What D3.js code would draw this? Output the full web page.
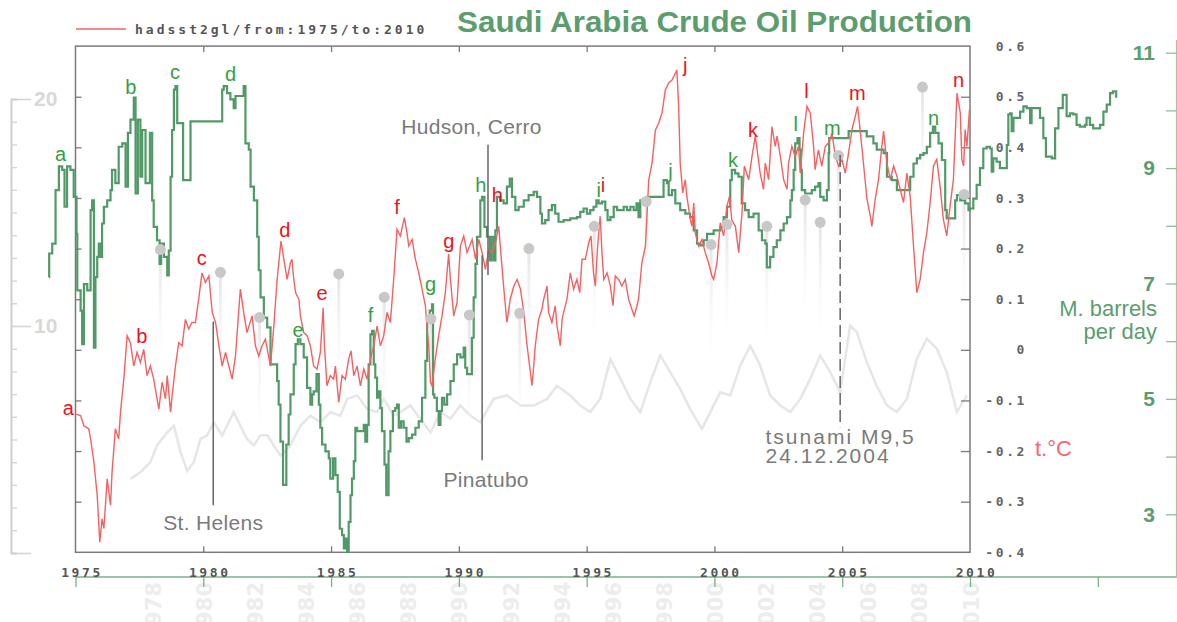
<!DOCTYPE html>
<html><head><meta charset="utf-8">
<script src="https://cdn.jsdelivr.net/npm/d3@7"></script>
<style>body{margin:0;background:#fff}svg{display:block}</style>
</head><body>
<svg id="c" width="1177" height="622"></svg>
<script>
// ---------------- DATA ----------------
const tempTicks = [-0.4,-0.3,-0.2,-0.1,0,0.1,0.2,0.3,0.4,0.5,0.6];
const yearLabels = [1975,1980,1985,1990,1995,2000,2005,2010];
const oilTicks = [3,4,5,6,7,8,9,10,11];
const oilLabels = [3,5,7,9,11];
const bgYearLabels = [1978,1980,1982,1984,1986,1988,1990,1992,1994,1996,1998,2000,2002,2004,2006,2008,2010];
const leftFaintTicks = d3.range(0,21);
const leftFaintLabels = [10,20];

// HadSST2 global anomaly (°C), 1975-2010
const tempSeries = [
[1975.03,-0.127],[1975.20,-0.130],[1975.33,-0.150],[1975.52,-0.156],[1975.59,-0.176],[1975.72,-0.222],[1975.85,-0.288],[1975.95,-0.380],[1976.04,-0.334],[1976.11,-0.353],[1976.24,-0.255],[1976.37,-0.307],[1976.43,-0.242],[1976.56,-0.156],[1976.69,-0.176],[1976.76,-0.123],[1976.89,-0.058],[1977.02,0.028],[1977.15,0.014],[1977.28,-0.032],[1977.41,-0.005],[1977.54,-0.025],[1977.67,0.001],[1977.80,-0.051],[1977.93,-0.032],[1978.06,-0.058],[1978.26,-0.117],[1978.39,-0.064],[1978.52,-0.097],[1978.59,-0.051],[1978.72,-0.123],[1978.78,-0.091],[1978.91,-0.032],[1979.04,0.014],[1979.17,0.008],[1979.30,0.060],[1979.43,0.041],[1979.56,0.054],[1979.69,0.054],[1979.82,0.100],[1979.95,0.152],[1980.08,0.133],[1980.22,0.146],[1980.35,0.074],[1980.48,0.054],[1980.61,0.008],[1980.74,-0.032],[1980.87,-0.005],[1981.00,-0.032],[1981.13,-0.058],[1981.26,-0.012],[1981.45,0.120],[1981.58,0.074],[1981.71,0.034],[1981.91,0.067],[1982.04,0.008],[1982.17,-0.012],[1982.30,0.008],[1982.43,0.021],[1982.63,-0.032],[1982.76,0.047],[1982.89,0.139],[1983.04,0.215],
[1983.15,0.179],[1983.28,0.139],[1983.41,0.172],[1983.47,0.179],[1983.54,0.139],[1983.61,0.113],[1983.74,0.100],[1983.80,0.067],[1983.93,0.034],[1984.06,0.028],[1984.19,0.008],[1984.32,-0.032],[1984.45,-0.038],[1984.58,-0.005],[1984.69,0.083],[1984.74,0.008],[1984.84,-0.071],[1984.97,-0.051],[1985.10,-0.058],[1985.17,-0.032],[1985.30,-0.104],[1985.43,-0.051],[1985.56,-0.058],[1985.69,-0.018],[1985.78,-0.002],[1985.89,-0.051],[1986.02,-0.032],[1986.15,-0.071],[1986.28,-0.038],[1986.41,-0.058],[1986.54,-0.018],[1986.67,0.008],[1986.80,0.047],[1986.93,0.008],[1987.06,0.028],[1987.19,0.074],[1987.32,0.054],[1987.45,0.139],[1987.58,0.238],[1987.71,0.225],[1987.87,0.261],[1987.97,0.231],[1988.04,0.205],[1988.17,0.218],[1988.30,0.179],[1988.43,0.152],[1988.56,0.120],[1988.69,0.087],[1988.76,0.041],[1988.82,0.008],[1988.89,-0.064],[1988.95,-0.071],[1989.08,-0.018],[1989.21,0.028],[1989.34,0.067],[1989.47,0.113],[1989.60,0.189],[1989.67,0.139],[1989.80,0.067],[1989.93,0.093],[1990.06,0.205],[1990.19,0.225],[1990.32,0.192],[1990.52,0.218],[1990.65,0.179],[1990.78,0.218],[1990.91,0.192],[1991.04,0.159],[1991.17,0.198],[1991.30,0.192],[1991.43,0.211],[1991.56,0.244],[1991.62,0.205],[1991.75,0.126],[1991.88,0.054],[1992.01,0.100],[1992.15,0.126],[1992.28,0.139],[1992.41,0.120],[1992.54,0.074],[1992.67,0.008],[1992.80,-0.045],
[1992.86,-0.071],[1992.93,-0.032],[1992.99,0.008],[1993.12,0.060],[1993.25,0.080],[1993.32,0.100],[1993.45,0.126],[1993.51,0.074],[1993.64,0.054],[1993.77,0.087],[1993.84,0.047],[1993.97,0.008],[1994.04,0.060],[1994.10,0.074],[1994.23,0.100],[1994.36,0.152],[1994.49,0.120],[1994.62,0.139],[1994.73,0.113],[1994.82,0.179],[1994.95,0.179],[1995.08,0.211],[1995.17,0.225],[1995.27,0.152],[1995.34,0.126],[1995.43,0.205],[1995.53,0.264],[1995.60,0.192],[1995.67,0.139],[1995.80,0.152],[1995.93,0.126],[1996.03,0.087],[1996.12,0.146],[1996.25,0.139],[1996.38,0.126],[1996.51,0.139],[1996.64,0.100],[1996.77,0.080],[1996.86,0.067],[1996.97,0.087],[1997.03,0.100],[1997.16,0.172],[1997.30,0.205],[1997.43,0.336],[1997.56,0.369],[1997.69,0.434],[1997.82,0.448],[1997.95,0.468],[1998.08,0.514],[1998.21,0.527],[1998.34,0.533],[1998.47,0.546],[1998.53,0.553],[1998.60,0.481],[1998.66,0.369],[1998.76,0.310],[1998.86,0.336],[1998.92,0.303],[1999.06,0.257],[1999.12,0.244],[1999.19,0.290],[1999.25,0.231],[1999.38,0.205],[1999.51,0.218],[1999.64,0.192],[1999.77,0.172],[1999.90,0.146],[1999.97,0.139],[2000.10,0.172],[2000.23,0.251],[2000.36,0.225],[2000.49,0.284],[2000.59,0.303],[2000.68,0.257],[2000.82,0.244],[2000.95,0.192],[2001.08,0.271],[2001.17,0.363],[2001.34,0.336],[2001.47,0.382],[2001.60,0.422],
[2001.79,0.349],[2001.92,0.317],[2001.99,0.369],[2002.12,0.336],[2002.25,0.441],[2002.38,0.402],[2002.45,0.422],[2002.58,0.382],[2002.71,0.336],[2002.84,0.317],[2002.90,0.369],[2003.03,0.402],[2003.16,0.382],[2003.29,0.402],[2003.36,0.349],[2003.49,0.428],[2003.62,0.481],[2003.75,0.468],[2003.88,0.402],[2003.94,0.356],[2004.07,0.395],[2004.20,0.363],[2004.34,0.402],[2004.47,0.409],[2004.60,0.428],[2004.73,0.382],[2004.86,0.363],[2004.99,0.376],[2005.12,0.349],[2005.25,0.389],[2005.38,0.435],[2005.51,0.461],[2005.60,0.481],[2005.70,0.435],[2005.83,0.369],[2005.97,0.297],[2006.10,0.264],[2006.16,0.244],[2006.29,0.297],[2006.42,0.336],[2006.55,0.402],[2006.62,0.432],[2006.75,0.369],[2006.88,0.336],[2007.01,0.363],[2007.14,0.343],[2007.27,0.317],[2007.40,0.291],[2007.53,0.349],[2007.66,0.303],[2007.79,0.205],[2007.92,0.113],[2008.05,0.139],[2008.18,0.192],[2008.31,0.231],[2008.44,0.290],[2008.57,0.363],[2008.70,0.376],[2008.83,0.323],[2008.96,0.257],[2009.09,0.225],[2009.22,0.284],[2009.35,0.336],[2009.49,0.507],[2009.62,0.468],[2009.68,0.376],[2009.75,0.363],[2009.81,0.435],[2009.88,0.402],[2009.98,0.474]
];

// Saudi Arabia crude oil production (million barrels per day)
const oilSeries = [
[1973.96,7.11],[1973.97,7.52],[1974.09,7.69],[1974.22,8.62],[1974.35,9.03],[1974.48,8.97],[1974.57,8.33],[1974.67,9.03],[1974.80,8.97],[1974.93,8.50],[1975.04,7.86],[1975.07,6.88],[1975.20,6.53],[1975.26,5.95],[1975.33,6.99],[1975.46,6.88],[1975.59,8.27],[1975.65,8.44],[1975.72,5.89],[1975.78,7.11],[1975.85,7.46],[1975.91,7.69],[1975.98,7.46],[1976.04,8.04],[1976.11,8.33],[1976.24,8.44],[1976.37,8.62],[1976.43,8.97],[1976.56,8.74],[1976.69,9.37],[1976.83,9.43],[1976.96,8.68],[1977.05,9.61],[1977.15,9.84],[1977.28,10.22],[1977.35,8.56],[1977.44,9.84],[1977.54,8.85],[1977.61,9.66],[1977.74,8.74],[1977.83,8.74],[1977.91,9.61],[1978.00,8.44],[1978.06,7.98],[1978.19,7.75],[1978.29,7.34],[1978.35,7.69],[1978.46,7.46],[1978.59,7.14],[1978.65,7.57],[1978.72,8.85],[1978.78,9.66],[1978.85,10.36],[1978.91,10.42],[1978.98,9.78],[1979.11,9.78],[1979.21,8.79],[1979.37,8.79],[1979.50,9.81],[1980.67,9.81],[1980.74,10.36],[1980.80,10.42],[1980.93,10.30],[1981.06,10.19],[1981.19,10.04],[1981.26,10.25],[1981.45,10.25],[1981.58,10.42],[1981.65,9.43],[1981.78,9.32],[1981.85,8.68],[1981.98,8.44],[1982.11,7.81],[1982.17,7.23],[1982.24,6.76],[1982.37,6.41],[1982.50,6.24],[1982.63,5.60],[1982.76,5.60],[1982.89,5.31],[1982.95,4.90],[1983.02,4.26],[1983.12,3.51],[1983.25,4.21],[1983.34,4.73],
[1983.41,5.08],[1983.54,5.60],[1983.61,5.95],[1983.70,6.03],[1983.80,5.95],[1983.93,5.72],[1984.06,5.19],[1984.19,4.90],[1984.26,5.08],[1984.32,5.13],[1984.43,5.43],[1984.52,4.90],[1984.58,4.50],[1984.65,4.21],[1984.78,4.09],[1984.91,3.97],[1984.97,3.62],[1985.08,3.97],[1985.17,3.68],[1985.26,3.39],[1985.34,2.75],[1985.43,2.64],[1985.50,2.41],[1985.56,2.58],[1985.63,2.35],[1985.69,2.87],[1985.76,3.33],[1985.82,3.62],[1985.89,3.92],[1985.95,4.50],[1986.02,4.44],[1986.15,4.44],[1986.28,4.55],[1986.34,4.26],[1986.41,4.55],[1986.47,5.60],[1986.54,6.12],[1986.60,6.18],[1986.67,5.60],[1986.73,5.37],[1986.80,5.02],[1986.86,5.13],[1986.93,4.84],[1986.99,4.44],[1987.09,3.86],[1987.16,3.33],[1987.25,4.09],[1987.32,4.44],[1987.42,4.79],[1987.51,4.84],[1987.58,4.90],[1987.65,4.50],[1987.74,4.61],[1987.84,4.50],[1987.95,4.26],[1988.04,4.32],[1988.17,4.38],[1988.30,4.50],[1988.43,4.61],[1988.56,5.02],[1988.69,5.66],[1988.76,6.35],[1988.86,6.53],[1988.95,6.64],[1988.99,5.08],[1989.04,5.02],[1989.14,4.79],[1989.21,4.55],[1989.28,4.79],[1989.34,5.02],[1989.43,4.90],[1989.54,5.08],[1989.67,5.31],[1989.80,5.60],[1989.93,5.77],[1990.06,5.72],[1990.19,5.89],[1990.25,5.54],[1990.32,5.43],[1990.45,5.43],[1990.51,6.06],[1990.58,6.76],[1990.65,7.34],[1990.71,7.81],[1990.84,8.44],[1990.91,8.50],[1991.00,7.98],[1991.10,7.81],[1991.21,7.40],[1991.27,7.81],[1991.36,7.40],[1991.43,7.92],[1991.49,8.50],[1991.62,8.44],[1991.75,8.39],[1991.88,8.68],[1991.99,8.82],[1992.08,8.50],[1992.21,8.27],[1992.34,8.33],[1992.54,8.44],[1992.73,8.53],
[1992.93,8.59],[1993.06,8.50],[1993.19,8.21],[1993.25,8.04],[1993.38,8.10],[1993.51,8.27],[1993.64,8.36],[1993.77,8.21],[1993.90,8.07],[1994.10,8.10],[1994.36,8.13],[1994.62,8.15],[1994.75,8.24],[1994.88,8.30],[1995.01,8.21],[1995.14,8.27],[1995.27,8.33],[1995.38,8.44],[1995.47,8.39],[1995.60,8.42],[1995.73,8.27],[1995.82,8.10],[1995.93,8.15],[1996.06,8.33],[1996.19,8.27],[1996.32,8.27],[1996.45,8.33],[1996.58,8.27],[1996.71,8.33],[1996.84,8.27],[1996.95,8.39],[1997.03,8.15],[1997.10,8.44],[1997.23,8.44],[1997.36,8.50],[1997.62,8.50],[1997.88,8.50],[1998.01,8.79],[1998.14,8.74],[1998.21,8.53],[1998.34,8.62],[1998.47,8.39],[1998.66,8.27],[1998.86,8.21],[1999.05,8.15],[1999.19,7.92],[1999.32,7.69],[1999.45,7.66],[1999.58,7.75],[1999.71,7.86],[1999.97,7.92],[2000.23,7.98],[2000.36,8.15],[2000.49,8.33],[2000.62,8.79],[2000.68,8.97],[2000.81,8.91],[2000.94,8.85],[2001.07,8.39],[2001.20,8.27],[2001.34,8.15],[2001.53,8.21],[2001.73,7.92],[2001.86,7.75],[2001.99,7.69],
[2002.05,7.28],[2002.18,7.46],[2002.31,7.63],[2002.44,7.75],[2002.58,7.92],[2002.71,8.04],[2002.84,8.15],[2002.97,8.44],[2003.03,8.62],[2003.10,8.97],[2003.16,9.43],[2003.25,9.52],[2003.33,9.32],[2003.38,8.97],[2003.42,8.62],[2003.55,8.56],[2003.68,8.56],[2003.81,8.62],[2003.94,8.68],[2004.07,8.74],[2004.14,8.50],[2004.27,8.44],[2004.40,8.62],[2004.47,9.26],[2004.49,9.52],[2005.05,9.52],[2005.25,9.64],[2005.70,9.64],[2005.96,9.55],[2006.22,9.43],[2006.35,9.32],[2006.48,9.32],[2006.62,9.26],[2006.75,8.85],[2006.94,8.79],[2007.14,8.62],[2007.53,8.62],[2007.66,8.85],[2007.79,9.08],[2007.92,9.17],[2008.05,9.23],[2008.18,9.26],[2008.31,9.37],[2008.44,9.61],[2008.55,9.72],[2008.64,9.61],[2008.77,9.43],[2008.90,9.14],[2009.03,8.27],[2009.09,8.13],[2009.29,8.13],[2009.42,8.44],[2009.49,8.53],[2009.62,8.44],[2009.81,8.39],[2009.94,8.27],
[2010.00,8.30],[2010.13,8.47],[2010.26,8.71],[2010.39,9.00],[2010.52,9.34],[2010.65,9.37],[2010.78,9.34],[2010.85,8.94],[2010.91,9.17],[2011.04,9.11],[2011.17,9.00],[2011.37,9.00],[2011.44,9.40],[2011.50,9.93],[2011.57,9.95],[2011.63,9.64],[2011.70,9.87],[2011.83,9.87],[2011.96,9.98],[2012.09,10.07],[2012.22,10.04],[2012.35,9.78],[2012.41,10.04],[2012.61,10.04],[2012.74,9.87],[2012.87,9.52],[2012.97,9.20],[2013.20,9.17],[2013.33,9.69],[2013.46,10.04],[2013.63,10.27],[2013.78,9.90],[2013.91,9.95],[2014.04,9.93],[2014.17,9.75],[2014.30,9.72],[2014.50,9.75],[2014.56,9.87],[2014.69,9.75],[2014.82,9.69],[2014.95,9.69],[2015.09,9.75],[2015.22,9.98],[2015.35,10.10],[2015.48,10.30],[2015.59,10.33],[2015.72,10.22]
];

// faded background series (smoothed temperature of an overlaid chart)
const bgSmooth = [
[1977.15,-0.255],[1977.54,-0.242],[1977.93,-0.222],[1978.19,-0.189],[1978.59,-0.163],[1978.85,-0.150],[1979.11,-0.202],[1979.37,-0.239],[1979.63,-0.222],[1979.89,-0.176],[1980.15,-0.169],[1980.41,-0.143],[1980.74,-0.169],[1980.93,-0.150],[1981.19,-0.123],[1981.45,-0.150],[1981.71,-0.176],[1981.98,-0.189],[1982.24,-0.169],[1982.50,-0.169],[1982.76,-0.189],[1983.02,-0.209],[1983.41,-0.189],[1983.80,-0.150],[1984.19,-0.130],[1984.58,-0.143],[1984.97,-0.123],[1985.36,-0.130],[1985.63,-0.097],[1986.02,-0.090],[1986.41,-0.117],[1986.80,-0.123],[1987.06,-0.097],[1987.45,-0.130],[1987.71,-0.123],[1988.10,-0.110],[1988.49,-0.136],[1988.89,-0.163],[1989.28,-0.123],[1989.67,-0.136],[1990.06,-0.110],[1990.45,-0.130],[1990.84,-0.143],[1991.36,-0.097],[1991.88,-0.090],[1992.41,-0.110],[1992.93,-0.110],[1993.45,-0.097],[1993.84,-0.071],[1994.36,-0.090],[1994.75,-0.110],[1995.14,-0.123],[1995.53,-0.097],[1995.93,-0.018],[1996.32,-0.057],[1996.71,-0.097],[1997.10,-0.123],[1997.49,-0.064],[1997.88,-0.011],[1998.27,-0.044],[1998.66,-0.077],[1999.05,-0.117],[1999.51,-0.156],[1999.84,-0.123],[2000.23,-0.084],[2000.62,-0.090],[2001.01,-0.031],[2001.40,0.008],[2001.79,-0.031],[2002.18,-0.090],[2002.58,-0.110],[2002.97,-0.123],[2003.36,-0.097],[2003.75,-0.057],[2004.14,-0.011],[2004.53,-0.044],[2004.92,-0.084],[2005.31,0.048],[2005.57,0.035],[2005.96,-0.024],[2006.35,-0.071],[2006.75,-0.110],[2007.14,-0.123],[2007.53,-0.097],[2007.92,-0.018],[2008.31,0.022],[2008.70,0.002],[2009.09,-0.044],[2009.49,-0.123],[2009.88,-0.090]
];

// faded gray markers of the overlaid chart (year, °C)
const bgDots = [
[1978.32,0.198],[1980.67,0.153],[1982.20,0.064],[1985.30,0.150],[1987.08,0.104],[1988.91,0.061],[1990.41,0.069],[1992.38,0.072],[1992.74,0.200],[1995.30,0.244],[1997.33,0.293],[1999.87,0.208],[2000.49,0.248],[2002.05,0.244],[2003.55,0.296],[2004.14,0.252],[2004.85,0.384],[2008.14,0.519],[2009.77,0.307]
];

// peak letters
const redLetters = [
["a",1974.72,-0.115],["b",1977.59,0.027],["c",1979.94,0.181],["d",1983.19,0.237],["e",1984.65,0.112],["f",1987.58,0.282],["g",1989.61,0.215],["h",1991.50,0.306],["i",1995.64,0.326],["j",1998.86,0.563],["k",2001.51,0.434],["l",2003.60,0.511],["m",2005.59,0.508],["n",2009.55,0.533]
];
const greenLetters = [
["a",1974.42,9.24],["b",1977.16,10.41],["c",1978.89,10.67],["d",1981.07,10.63],["e",1983.71,6.19],["f",1986.54,6.45],["g",1988.89,7.00],["h",1990.86,8.71],["i",1995.47,8.62],["j",1998.28,8.95],["k",2000.73,9.14],["l",2003.18,9.76],["m",2004.61,9.70],["n",2008.57,9.87]
];

// event markers: [year, top °C, bottom °C, dashed]
const eventLines = [
[1980.39,0.056,-0.307,false],
[1991.14,0.405,0.148,false],
[1990.91,0.187,-0.218,false],
[2004.92,0.385,-0.153,true]
];
// event labels: [text, year, °C, anchor]
const eventLabels = [
["St. Helens",1980.39,-0.341,"middle"],
["Hudson, Cerro",1987.75,0.441,"start"],
["Pinatubo",1991.07,-0.257,"middle"],
["tsunami M9,5",2002.00,-0.172,"start"],
["24.12.2004",2002.00,-0.210,"start"]
];

// ---------------- DRAW ----------------
const svg = d3.select("#c");
const x  = d3.scaleLinear().domain([1975,2010]).range([75.5,970]);
const yT = d3.scaleLinear().domain([-0.4,0.6]).range([552.3,46.1]);
const yO = d3.scaleLinear().domain([3,11]).range([514.3,52.7]);
const yL = d3.scaleLinear().domain([0,20]).range([553,99]);

const MONO = "'DejaVu Sans Mono','Liberation Mono',monospace";
const SANS = "'Liberation Sans',Arial,sans-serif";
const GREEN_LINE = "#519a68", GREEN_TXT = "#5b9d6c", RED_LINE = "#f26262";

const defs = svg.append("defs");
const grad = defs.append("linearGradient").attr("id","stem").attr("x1",0).attr("y1",0).attr("x2",0).attr("y2",1);
grad.append("stop").attr("offset","0%").attr("stop-color","#e4e4e4");
grad.append("stop").attr("offset","100%").attr("stop-color","#ffffff").attr("stop-opacity",0);

// faded rotated year labels at the bottom
svg.append("g").selectAll("text").data(bgYearLabels).join("text")
  .attr("transform", d => `translate(${x(d)+1},582) rotate(-90)`)
  .attr("text-anchor","end").attr("dy","0.36em")
  .attr("fill","#ededed").style("font","bold 21px 'DejaVu Sans',sans-serif")
  .text(d => d);

// faint left axis
const gL = svg.append("g").attr("transform","translate(11,0)");
gL.call(d3.axisRight(yL).tickValues(leftFaintTicks).tickSize(6).tickFormat(""));
gL.call(g => g.select(".domain").attr("stroke","#cfcfcf").attr("stroke-width",2));
gL.selectAll(".tick line").attr("stroke","#d3d3d3").attr("stroke-width",1.3);
const gL2 = svg.append("g").attr("transform","translate(11,0)");
gL2.call(d3.axisRight(yL).tickValues([0,10,20]).tickSize(20).tickPadding(3).tickFormat(d => leftFaintLabels.includes(d) ? d : ""));
gL2.select(".domain").remove();
gL2.selectAll(".tick line").attr("stroke","#d3d3d3").attr("stroke-width",1.5);
gL2.selectAll(".tick text").attr("fill","#d8d8d8").style("font","bold 21px "+SANS);

// faint background line
svg.append("path").datum(bgSmooth)
  .attr("fill","none").attr("stroke","#e6e6e6").attr("stroke-width",2.5)
  .attr("d", d3.line().x(d=>x(d[0])).y(d=>yT(d[1])));

// dot stems
svg.append("g").selectAll("rect").data(bgDots).join("rect")
  .attr("x", d => x(d[0])-1.5).attr("y", d => yT(d[1]))
  .attr("width",3).attr("height",130).attr("fill","url(#stem)");

// plot frame
svg.append("rect").attr("x",x(1975)).attr("y",yT(0.6)).attr("width",x(2010)-x(1975)).attr("height",yT(-0.4)-yT(0.6))
  .attr("fill","none").attr("stroke","#7a7a7a").attr("stroke-width",1.5);

const innerYears = [1980,1985,1990,1995,2000,2005];
function styleTicks(g){ g.select(".domain").remove(); g.selectAll(".tick line").attr("stroke","#7a7a7a").attr("stroke-width",1.3); }
svg.append("g").attr("transform",`translate(0,${yT(0.6)})`).call(d3.axisBottom(x).tickValues(innerYears).tickSize(6).tickFormat("")).call(styleTicks);
svg.append("g").attr("transform",`translate(0,${yT(-0.4)})`).call(d3.axisTop(x).tickValues(innerYears).tickSize(6).tickFormat("")).call(styleTicks);
const innerTemp = tempTicks.slice(1,-1);
svg.append("g").attr("transform",`translate(${x(1975)},0)`).call(d3.axisRight(yT).tickValues(innerTemp).tickSize(6).tickFormat("")).call(styleTicks);
svg.append("g").attr("transform",`translate(${x(2010)},0)`).call(d3.axisLeft(yT).tickValues(innerTemp).tickSize(9).tickFormat("")).call(styleTicks);

// right temperature labels
const gTL = svg.append("g").attr("transform",`translate(${x(2010)},0)`)
  .call(d3.axisRight(yT).tickValues(tempTicks).tickSize(0).tickPadding(0).tickFormat(d => d===0 ? "0" : d.toFixed(1)));
gTL.select(".domain").remove();
gTL.selectAll(".tick text").attr("x",57).attr("text-anchor","end").attr("fill","#666")
  .style("font","bold 13px "+MONO).style("letter-spacing","2.6px");

// green time axis (bottom)
const gGA = svg.append("g").attr("transform","translate(0,577)");
gGA.append("line").attr("x1",x(1975)).attr("x2",1177).attr("stroke","#78b289").attr("stroke-width",1.3);
gGA.call(d3.axisBottom(x).tickValues(d3.range(1975,2016)).tickSize(5).tickFormat(""));
gGA.call(d3.axisBottom(x).tickValues(d3.range(1975,2016,5)).tickSize(10).tickFormat(""));
gGA.selectAll(".domain").remove();
gGA.selectAll(".tick line").attr("stroke","#78b289").attr("stroke-width",1.3);

// year labels
const gYL = svg.append("g").attr("transform","translate(0,577)")
  .call(d3.axisTop(x).tickValues(yearLabels).tickSize(0).tickPadding(0).tickFormat(d3.format("d")));
gYL.select(".domain").remove();
gYL.selectAll(".tick text").attr("dx",6).attr("fill","#555")
  .style("font","bold 13px "+MONO).style("letter-spacing","2.6px");

// right green oil axis
svg.append("line").attr("x1",1176.5).attr("x2",1176.5).attr("y1",40).attr("y2",577).attr("stroke","#9ccaa9").attr("stroke-width",1.2);
const gO = svg.append("g").attr("transform","translate(1166,0)")
  .call(d3.axisRight(yO).tickValues(oilTicks).tickSize(11).tickFormat(""));
gO.select(".domain").remove();
gO.selectAll(".tick line").attr("stroke","#8cc09b").attr("stroke-width",1.3);
const gOL = svg.append("g").attr("transform","translate(1166,0)")
  .call(d3.axisLeft(yO).tickValues(oilLabels).tickSize(0).tickPadding(11));
gOL.select(".domain").remove();
gOL.selectAll(".tick text").attr("fill",GREEN_TXT).style("font","bold 21px "+SANS);

// oil line
svg.append("path").datum(oilSeries)
  .attr("fill","none").attr("stroke",GREEN_LINE).attr("stroke-width",2.2).attr("stroke-linejoin","miter")
  .attr("d", d3.line().x(d=>x(d[0])).y(d=>yO(d[1])).curve(d3.curveStepAfter));

// temperature line
svg.append("path").datum(tempSeries)
  .attr("fill","none").attr("stroke",RED_LINE).attr("stroke-width",1.4)
  .attr("d", d3.line().x(d=>x(d[0])).y(d=>yT(d[1])));

// gray dots
svg.append("g").selectAll("circle").data(bgDots).join("circle")
  .attr("cx", d => x(d[0])).attr("cy", d => yT(d[1])).attr("r",5.5).attr("fill","#c8c8c8");

// event lines
svg.append("g").selectAll("line").data(eventLines).join("line")
  .attr("x1", d => x(d[0])).attr("x2", d => x(d[0]))
  .attr("y1", d => yT(d[1])).attr("y2", d => yT(d[2]))
  .attr("stroke","#666").attr("stroke-width",1.5)
  .attr("stroke-dasharray", d => d[3] ? "12,5" : null);

// event labels
svg.append("g").selectAll("text").data(eventLabels).join("text")
  .attr("x", d => x(d[1])).attr("y", d => yT(d[2])).attr("dy","0.35em")
  .attr("text-anchor", d => d[3]).attr("fill","#7a7a7a")
  .style("font","21px "+SANS)
  .style("letter-spacing", d => d[0].startsWith("tsunami")||d[0].startsWith("24.") ? "2px" : "0.3px")
  .text(d => d[0]);

// peak letters
svg.append("g").selectAll("text").data(redLetters).join("text")
  .attr("x", d => x(d[1])).attr("y", d => yT(d[2])).attr("dy","0.35em").attr("text-anchor","middle")
  .attr("fill","#e8131b").style("font","20px "+SANS).text(d => d[0]);
svg.append("g").selectAll("text").data(greenLetters).join("text")
  .attr("x", d => x(d[1])).attr("y", d => yO(d[2])).attr("dy","0.35em").attr("text-anchor","middle")
  .attr("fill","#35a03f").style("font","20px "+SANS).text(d => d[0]);

// axis titles
svg.append("text").attr("x",1157).attr("y",316).attr("text-anchor","end").attr("fill",GREEN_TXT).style("font","22px "+SANS).text("M. barrels");
svg.append("text").attr("x",1157).attr("y",339).attr("text-anchor","end").attr("fill",GREEN_TXT).style("font","22px "+SANS).text("per day");
svg.append("text").attr("x",1035).attr("y",456).attr("fill","#f06a6a").style("font","22px "+SANS).text("t.°C");

// legend
svg.append("line").attr("x1",76).attr("x2",126).attr("y1",29).attr("y2",29).attr("stroke","#f28a8a").attr("stroke-width",2);
svg.append("text").attr("x",135).attr("y",34).attr("fill","#555").style("font","bold 13px "+MONO).style("letter-spacing","3px")
  .text("hadsst2gl/from:1975/to:2010");

// title
svg.append("text").attr("x",457).attr("y",32).attr("fill",GREEN_TXT)
  .attr("textLength",515).attr("lengthAdjust","spacingAndGlyphs")
  .style("font","bold 30px "+SANS).text("Saudi Arabia Crude Oil Production");
</script>
</body></html>
